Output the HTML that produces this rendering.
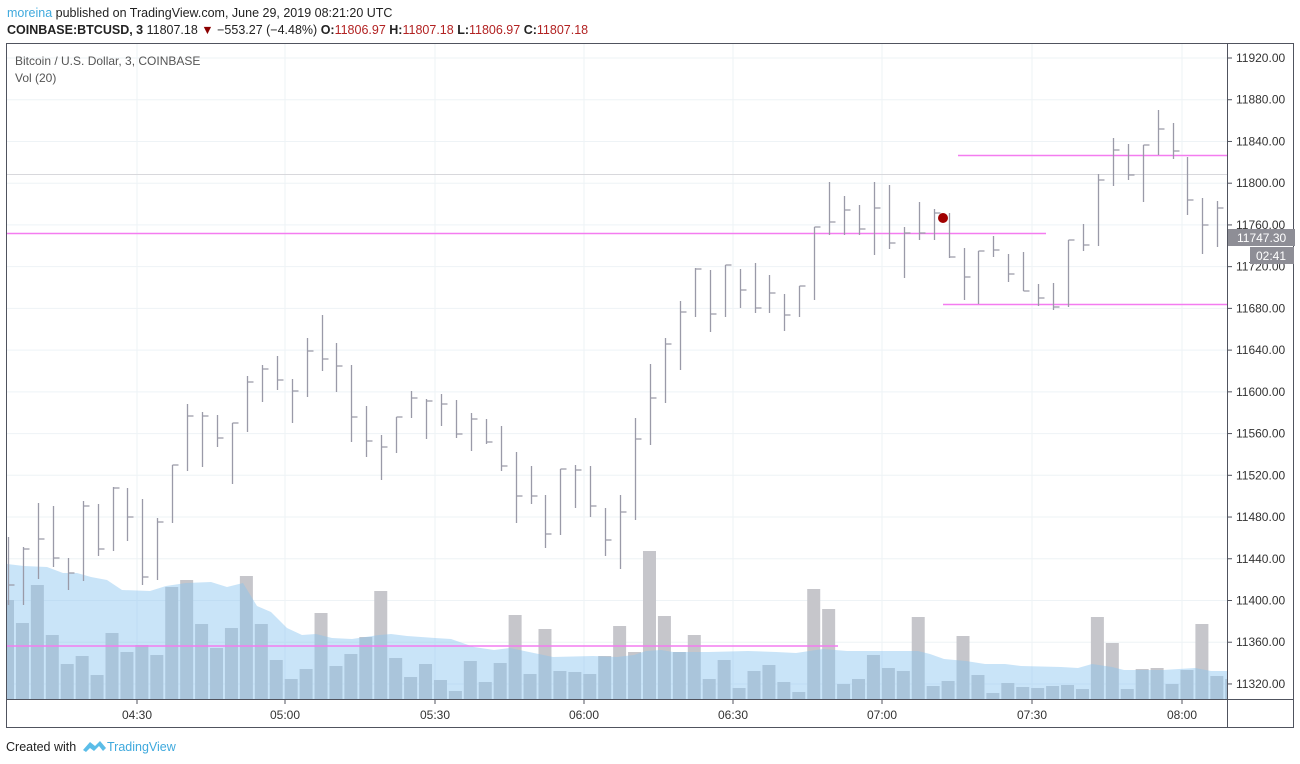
<!DOCTYPE html>
<html><head><meta charset="utf-8"><style>
html,body{margin:0;padding:0;background:#fff;width:1300px;height:764px;overflow:hidden;font-family:"Liberation Sans",sans-serif}
svg{position:absolute;left:0;top:0}
</style></head><body>
<svg id="s" width="1300" height="764" xmlns="http://www.w3.org/2000/svg" font-family="Liberation Sans, sans-serif">
<text x="7" y="17" font-size="12.5"><tspan fill="#3fa9dd">moreina</tspan><tspan fill="#222"> published on TradingView.com, June 29, 2019 08:21:20 UTC</tspan></text>
<text x="7" y="34" font-size="12.5" fill="#222"><tspan font-weight="bold">COINBASE:BTCUSD, 3</tspan> 11807.18 <tspan fill="#8b0000">▼</tspan> −553.27 (−4.48%) <tspan font-weight="bold">O:</tspan><tspan fill="#b22222">11806.97</tspan> <tspan font-weight="bold">H:</tspan><tspan fill="#b22222">11807.18</tspan> <tspan font-weight="bold">L:</tspan><tspan fill="#b22222">11806.97</tspan> <tspan font-weight="bold">C:</tspan><tspan fill="#b22222">11807.18</tspan></text>
<g id="grid" stroke="#eef3f6" stroke-width="1"></g>
<g id="vol"></g>
<g id="lines"></g>
<g id="bars" stroke="#9a9aa8" stroke-width="1.3" fill="none"></g>
<circle cx="943" cy="218" r="5" fill="#a00000"/>
<text x="15" y="65" font-size="12" fill="#555">Bitcoin / U.S. Dollar, 3, COINBASE</text>
<text x="15" y="82" font-size="12" fill="#555">Vol (20)</text>
<rect x="6.5" y="43.5" width="1287" height="684" fill="none" stroke="#50535e"/>
<line x1="1227.5" y1="43" x2="1227.5" y2="728" stroke="#50535e"/>
<line x1="6" y1="699.5" x2="1294" y2="699.5" stroke="#50535e"/>
<g id="yt" font-size="12" fill="#333"></g>
<g font-size="12" fill="#333" text-anchor="middle">
<text x="137" y="719">04:30</text><text x="285" y="719">05:00</text><text x="435" y="719">05:30</text><text x="584" y="719">06:00</text><text x="733" y="719">06:30</text><text x="882" y="719">07:00</text><text x="1032" y="719">07:30</text><text x="1182" y="719">08:00</text>
</g>
<g id="xt" stroke="#50535e"></g>
<rect x="1228" y="229" width="67" height="17" fill="#8e8e96"/>
<text x="1237" y="242" font-size="12" fill="#fff">11747.30</text>
<rect x="1250" y="247" width="44" height="17" fill="#8e8e96"/>
<text x="1256" y="260" font-size="12" fill="#fff">02:41</text>
<text x="6" y="751" font-size="12.5" fill="#222">Created with</text>
<path d="M83 750 L90 742 L95 746 L100 741 L106 748 L103 751 L99 746 L94 751 L90 748 L86 752 Z" fill="#5bbde8"/>
<text x="107" y="751" font-size="12.5" fill="#3fa9dd">TradingView</text>
</svg>
<script>
var NS="http://www.w3.org/2000/svg";
function el(p,t,a){var e=document.createElementNS(NS,t);for(var k in a)e.setAttribute(k,a[k]);document.getElementById(p).appendChild(e);return e;}
var labs=["11920.00","11880.00","11840.00","11800.00","11760.00","11720.00","11680.00","11640.00","11600.00","11560.00","11520.00","11480.00","11440.00","11400.00","11360.00","11320.00"];
for(var i=0;i<16;i++){var y=58+i*41.73;el("grid","line",{x1:7,x2:1227,y1:y,y2:y});el("xt","line",{x1:1227,x2:1232,y1:y,y2:y});}
[137,285,435,584,733,882,1032,1182].forEach(function(x){el("grid","line",{x1:x,x2:x,y1:44,y2:699});el("xt","line",{x1:x,x2:x,y1:699,y2:704});});
var B=[[537,605,585],[547,605,549],[503,579,539],[506,567,558],[558,590,573],[501,581,506],[504,556,549],[487,551,488],[488,541,517],[499,585,577],[518,580,522],[465,523,465],[404,471,416],[412,467,416],[415,447,438],[423,484,423],[376,432,382],[365,402,369],[356,390,380],[379,423,391],[338,397,351],[315,371,359],[343,392,366],[365,442,417],[406,457,441],[435,480,447],[417,453,417],[391,418,398],[399,439,401],[394,426,404],[400,438,434],[413,451,419],[419,444,442],[426,471,466],[452,523,496],[466,504,496],[495,548,534],[469,535,469],[465,508,470],[466,517,506],[508,556,540],[495,569,512],[418,520,439],[364,445,398],[338,403,344],[301,370,312],[268,317,269],[270,332,314],[265,317,265],[269,308,290],[263,313,308],[275,313,293],[294,331,315],[286,317,286],[227,300,227],[182,235,222],[196,235,210],[205,235,229],[182,255,208],[185,249,243],[227,278,233],[202,240,233],[209,240,213],[213,258,257],[248,300,277],[251,304,251],[236,257,250],[254,282,274],[252,291,291],[284,306,298],[283,310,307],[240,307,240],[224,251,245],[174,246,180],[138,186,150],[144,180,175],[145,202,145],[110,155,129],[123,159,151],[157,215,200],[198,254,225],[201,247,208]];
var V=[600,623,585,635,664,656,675,633,652,645,655,587,580,624,648,628,576,624,660,679,669,613,666,654,637,591,658,677,664,680,691,661,682,663,615,674,629,671,672,674,656,626,652,551,616,652,635,679,660,688,671,665,682,692,589,609,684,679,655,668,671,617,686,681,636,675,693,683,687,688,686,685,689,617,643,689,669,668,684,670,624,676,679];
function bx(i){return 8+i*14.93;}
var d="";
for(var i=0;i<B.length;i++){var x=Math.round(bx(i))+0.5;d+="M"+x+" "+B[i][0]+"V"+B[i][1]+"M"+x+" "+B[i][2]+"H"+(x+6);}
el("bars","path",{d:d});
for(var i=0;i<V.length;i++){var x=bx(i)-7;var l=Math.max(x,7),r=Math.min(x+13,1227);if(r>l)el("vol","rect",{x:l,y:V[i],width:r-l,height:699-V[i],fill:"#c6c6cb"});}
var ma=[[7,564],[24,566],[47,567],[63,573],[77,573],[91,577],[107,580],[122,590],[150,591],[166,586],[186,583],[211,582],[227,587],[243,583],[257,606],[271,612],[287,628],[302,635],[316,634],[332,638],[352,639],[379,635],[391,634],[407,636],[435,638],[451,639],[474,647],[494,650],[510,648],[553,657],[593,656],[617,657],[634,655],[646,651],[661,650],[673,652],[709,652],[748,651],[776,652],[796,653],[823,649],[847,651],[887,651],[918,651],[930,654],[944,659],[966,661],[985,664],[1005,664],[1021,666],[1061,667],[1078,668],[1092,664],[1112,667],[1124,670],[1163,670],[1195,668],[1211,671],[1227,671]];
var p="M7 699";ma.forEach(function(q){p+="L"+q[0]+" "+q[1];});p+="L1227 699Z";
el("vol","path",{d:p,fill:"rgba(135,195,240,0.45)"});
el("lines","line",{x1:7,x2:1227,y1:174.5,y2:174.5,stroke:"#d8d8dc"});
el("lines","line",{x1:7,x2:1046,y1:233.5,y2:233.5,stroke:"#f47cf0","stroke-width":1.5});
el("lines","line",{x1:958,x2:1227,y1:155.5,y2:155.5,stroke:"#f47cf0","stroke-width":1.5});
el("lines","line",{x1:943,x2:1227,y1:304.5,y2:304.5,stroke:"#f47cf0","stroke-width":1.5});
el("lines","line",{x1:7,x2:838,y1:646,y2:646,stroke:"#f47cf0","stroke-width":1.5});
for(var i=0;i<16;i++){var t=el("yt","text",{x:1236,y:62+i*41.73});t.textContent=labs[i];}
</script>
</body></html>
